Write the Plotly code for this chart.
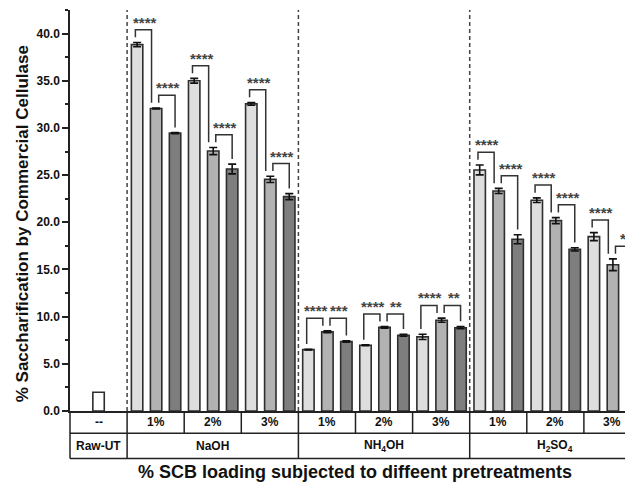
import plotly.graph_objects as go

# ---------------- data ----------------
concentrations = ["1%", "2%", "3%"]
pretreatments = ["NaOH", "NH<sub>4</sub>OH", "H<sub>2</sub>SO<sub>4</sub>"]
raw_label = "Raw-UT"
raw_conc_label = "--"
raw_value = 1.98

naoh_means = [[38.83, 32.06, 29.45], [35.00, 27.55, 25.65], [32.55, 24.55, 22.72]]
naoh_errs = [[0.22, 0.05, 0.06], [0.25, 0.38, 0.52], [0.15, 0.33, 0.32]]
nh4oh_means = [[6.51, 8.39, 7.36], [6.97, 8.86, 8.03], [7.86, 9.62, 8.83]]
nh4oh_errs = [[0.04, 0.10, 0.08], [0.04, 0.08, 0.10], [0.28, 0.22, 0.12]]
h2so4_means = [[25.55, 23.32, 18.20], [22.34, 20.18, 17.13], [18.48, 15.50, 14.56]]
h2so4_errs = [[0.52, 0.27, 0.48], [0.25, 0.32, 0.18], [0.42, 0.62, 0.34]]

sig_naoh = [["****", "****"], ["****", "****"], ["****", "****"]]
sig_nh4oh = [["****", "***"], ["****", "**"], ["****", "**"]]
sig_h2so4 = [["****", "****"], ["****", "****"], ["****", "*"]]

y_title = "% Saccharification by Commercial Cellulase"
x_title = "% SCB loading subjected to diffeent pretreatments"

# ---------------- styling / layout constants ----------------
shade_colors = ["#dedede", "#b2b2b2", "#7e7e7e"]
outline = "#2e2e2e"
bar_offsets = [0.175, 0.508, 0.84]
bar_width = 0.2
x_max = 9.86
row1_bottom = -0.0556
row2_bottom = -0.1187
font_family = "Liberation Sans, Arial, sans-serif"
# horizontal nudges of the bracket legs (left leg, right leg) for the two brackets
leg_nudge = [(-0.03, -0.08), (0.045, 0.0)]

all_means = [naoh_means, nh4oh_means, h2so4_means]
all_errs = [naoh_errs, nh4oh_errs, h2so4_errs]
all_sigs = [sig_naoh, sig_nh4oh, sig_h2so4]

fig = go.Figure()

# raw untreated bar
fig.add_trace(go.Bar(
    x=[0.5], y=[raw_value], width=[bar_width],
    marker=dict(color="white", line=dict(color=outline, width=1.6)),
    showlegend=False, hoverinfo="y"))

shapes = []
annotations = []

for k in range(3):
    xs, ys, es = [], [], []
    for p in range(3):
        for c in range(3):
            sec = 1 + 3 * p + c
            xs.append(sec + bar_offsets[k])
            ys.append(all_means[p][c][k])
            es.append(all_errs[p][c][k])
    fig.add_trace(go.Bar(
        x=xs, y=ys, width=[bar_width] * len(xs),
        marker=dict(color=shade_colors[k], line=dict(color=outline, width=1.6)),
        error_y=dict(type="data", array=es, color="#111111", thickness=1.6, width=4),
        showlegend=False, hoverinfo="y"))

# significance brackets
for p in range(3):
    for c in range(3):
        sec = 1 + 3 * p + c
        for j in range(2):
            ta = all_means[p][c][j] + all_errs[p][c][j]
            tb = all_means[p][c][j + 1] + all_errs[p][c][j + 1]
            xa = sec + bar_offsets[j] + leg_nudge[j][0]
            xb = sec + bar_offsets[j + 1] + leg_nudge[j][1]
            ytop = max(ta, tb) + 1.35
            shapes.append(dict(
                type="path", xref="x", yref="y",
                path=f"M {xa},{ta + 0.55} L {xa},{ytop} L {xb},{ytop} L {xb},{tb + 0.55}",
                line=dict(color="#333333", width=1.5)))
            annotations.append(dict(
                x=min((xa + xb) / 2 + 0.02, x_max - 0.17), y=ytop, xref="x", yref="y",
                text=all_sigs[p][c][j], showarrow=False,
                xanchor="center", yanchor="bottom", yshift=-3,
                font=dict(family=font_family, size=15, color="#444444", weight="bold")))

# dashed separators between pretreatments
for xb in [1, 4, 7]:
    shapes.append(dict(type="line", xref="x", yref="paper", x0=xb, x1=xb, y0=0, y1=1,
                       line=dict(color="#444444", width=1.5, dash="4px,3px")))

# table under the axis
tbl_line = dict(color="#222222", width=1.5)
for yy in [row1_bottom, row2_bottom]:
    shapes.append(dict(type="line", xref="paper", yref="paper", x0=0, x1=1, y0=yy, y1=yy, line=tbl_line))
shapes.append(dict(type="line", xref="paper", yref="paper", x0=0, x1=0, y0=0, y1=row2_bottom, line=tbl_line))
for xb in [1, 4, 7]:
    shapes.append(dict(type="line", xref="x", yref="paper", x0=xb, x1=xb, y0=0, y1=row2_bottom, line=tbl_line))
for xb in [2, 3, 5, 6, 8, 9]:
    shapes.append(dict(type="line", xref="x", yref="paper", x0=xb, x1=xb, y0=0, y1=row1_bottom, line=tbl_line))

tfont = dict(family=font_family, size=12, color="#111111", weight="bold")
annotations.append(dict(x=0.5, y=row1_bottom / 2, xref="x", yref="paper", text=raw_conc_label,
                        showarrow=False, font=tfont, yanchor="middle"))
annotations.append(dict(x=0.5, y=(row1_bottom + row2_bottom) / 2, xref="x", yref="paper", text=raw_label,
                        showarrow=False, font=tfont, yanchor="middle"))
for p in range(3):
    for c in range(3):
        sec = 1 + 3 * p + c
        annotations.append(dict(x=sec + 0.5, y=row1_bottom / 2, xref="x", yref="paper",
                                text=concentrations[c], showarrow=False, font=tfont, yanchor="middle"))
    annotations.append(dict(x=1 + 3 * p + 1.5, y=(row1_bottom + row2_bottom) / 2, xref="x", yref="paper",
                            text=pretreatments[p], showarrow=False, font=tfont, yanchor="middle"))

# axis titles
annotations.append(dict(x=0.507, y=-0.153, xref="paper", yref="paper", text=x_title, showarrow=False,
                        xanchor="center", yanchor="middle",
                        font=dict(family=font_family, size=18, color="#111111", weight="bold")))
annotations.append(dict(x=-0.085, y=0.466, xref="paper", yref="paper", text=y_title, showarrow=False,
                        textangle=-90, xanchor="center", yanchor="middle",
                        font=dict(family=font_family, size=17, color="#111111", weight="bold")))

# the page body adds an 8px offset, so the figure is 8px smaller than the window
fig.update_layout(
    width=625, height=475,
    margin=dict(l=62, r=0, t=2, b=72),
    plot_bgcolor="white", paper_bgcolor="white",
    barmode="overlay",
    shapes=shapes, annotations=annotations,
    font=dict(family=font_family),
    xaxis=dict(range=[0, x_max], showline=True, linecolor="#222222", linewidth=1.5,
               showticklabels=False, ticks="", showgrid=False, zeroline=False),
    yaxis=dict(range=[0, 42.5], showline=True, linecolor="#222222", linewidth=1.5,
               ticks="outside", ticklen=6, tickwidth=1.5, tickcolor="#222222",
               tick0=0, dtick=5, tickformat=".1f", showgrid=False, zeroline=False,
               tickfont=dict(family=font_family, size=12, color="#111111", weight="bold"),
               minor=dict(ticks="outside", ticklen=3, tickwidth=1.5, tickcolor="#222222",
                          dtick=2.5, showgrid=False)),
)

fig.write_html("out.html")
